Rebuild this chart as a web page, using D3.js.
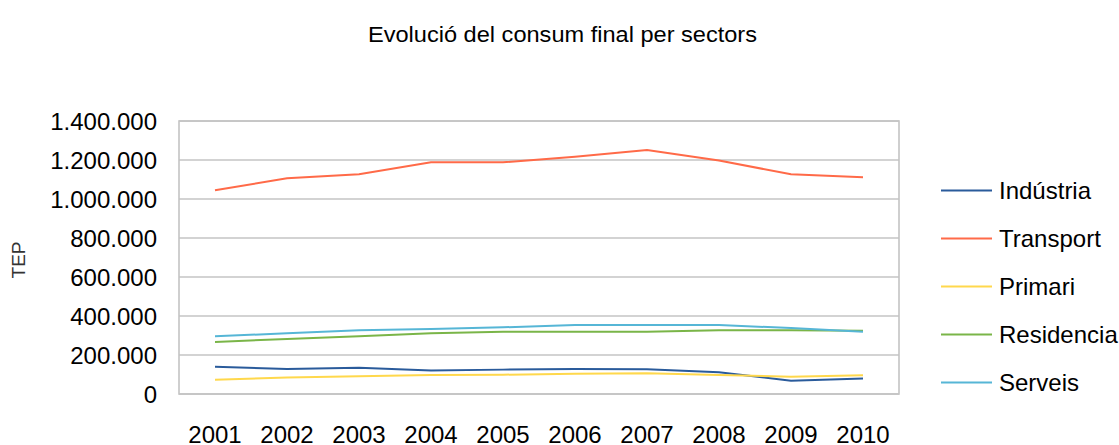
<!DOCTYPE html>
<html>
<head>
<meta charset="utf-8">
<script src="https://cdn.jsdelivr.net/npm/d3@7.9.0/dist/d3.min.js"></script>
<style>
  body { margin: 0; background: #fff; }
  svg { display: block; font-family: "Liberation Sans", Arial, sans-serif; }
</style>
</head>
<body>
<svg width="1119" height="445"></svg>
<script>
// data
const years = ['2001', '2002', '2003', '2004', '2005', '2006', '2007', '2008', '2009', '2010'];
const industria  = [140000, 128000, 135000, 120000, 125000, 128000, 127000, 111000, 68000, 80000];
const transport  = [1045000, 1106000, 1127000, 1188000, 1188000, 1217000, 1251000, 1197000, 1127000, 1111000];
const primari    = [73000, 84000, 91000, 97000, 99000, 104000, 106000, 97000, 89000, 96000];
const residencia = [267000, 282000, 296000, 311000, 319000, 319000, 319000, 327000, 327000, 325000];
const serveis    = [296000, 311000, 327000, 333000, 342000, 354000, 354000, 354000, 338000, 319000];
const yTicks = [0, 200000, 400000, 600000, 800000, 1000000, 1200000, 1400000];

const series = [
  { name: 'Indústria', values: industria, color: '#2a5b9b' },
  { name: 'Transport', values: transport, color: '#ff6a48' },
  { name: 'Primari', values: primari, color: '#ffd84c' },
  { name: 'Residencia', values: residencia, color: '#7ab548' },
  { name: 'Serveis', values: serveis, color: '#56b6d6' }
];

const svg = d3.select('svg');
const plot = { left: 179, right: 899, top: 121, bottom: 394 };

// category axis, points in the middle of each band
const x = d3.scaleBand().domain(years).range([plot.left, plot.right]);
const y = d3.scaleLinear().domain([0, 1400000]).range([plot.bottom, plot.top]);

// format with dots as thousands separator
const fmt = d3.formatLocale({ decimal: ',', thousands: '.', grouping: [3], currency: ['', ''] }).format(',d');

// title
svg.append('text')
  .attr('x', 562.5).attr('y', 41.5)
  .attr('text-anchor', 'middle')
  .attr('font-size', 22)
  .attr('textLength', 389)
  .attr('lengthAdjust', 'spacingAndGlyphs')
  .text('Evolució del consum final per sectors');

// gridlines
svg.append('g')
  .selectAll('line')
  .data(yTicks)
  .join('line')
  .attr('x1', plot.left).attr('x2', plot.right)
  .attr('y1', d => y(d)).attr('y2', d => y(d))
  .attr('stroke', '#c4c4c4')
  .attr('stroke-width', 1.6);

// plot border
svg.append('rect')
  .attr('x', plot.left).attr('y', plot.top)
  .attr('width', plot.right - plot.left).attr('height', plot.bottom - plot.top)
  .attr('fill', 'none')
  .attr('stroke', '#c4c4c4')
  .attr('stroke-width', 1.6);

// y axis labels
const yAxis = svg.append('g')
  .attr('transform', `translate(${plot.left - 22},0)`)
  .call(d3.axisLeft(y).tickValues(yTicks).tickFormat(fmt).tickSize(0).tickPadding(0));
yAxis.select('.domain').remove();
yAxis.selectAll('text')
  .attr('font-size', 24)
  .attr('font-family', '"Liberation Sans", Arial, sans-serif')
  .attr('fill', '#000')
  .attr('dy', '0.35em');

// x axis labels
const xAxis = svg.append('g')
  .attr('transform', `translate(0,${plot.bottom})`)
  .call(d3.axisBottom(x).tickSize(0).tickPadding(0));
xAxis.select('.domain').remove();
xAxis.selectAll('text')
  .attr('font-size', 24)
  .attr('font-family', '"Liberation Sans", Arial, sans-serif')
  .attr('fill', '#000')
  .attr('y', 48.5)
  .attr('dy', 0);

// y axis title
svg.append('text')
  .attr('transform', 'translate(25,260) rotate(-90)')
  .attr('text-anchor', 'middle')
  .attr('font-size', 19)
  .attr('fill', '#333')
  .text('TEP');

// lines
const line = d3.line()
  .x((d, i) => x(years[i]) + x.bandwidth() / 2)
  .y(d => y(d));

svg.append('g')
  .selectAll('path')
  .data(series)
  .join('path')
  .attr('d', d => line(d.values))
  .attr('fill', 'none')
  .attr('stroke', d => d.color)
  .attr('stroke-width', 2);

// legend
const legend = svg.append('g').attr('transform', 'translate(941,190.5)');
const item = legend.selectAll('g')
  .data(series)
  .join('g')
  .attr('transform', (d, i) => `translate(0,${i * 48})`);
item.append('line')
  .attr('x1', 0).attr('x2', 51)
  .attr('stroke', d => d.color)
  .attr('stroke-width', 2);
item.append('text')
  .attr('x', 58).attr('y', 8.5)
  .attr('font-size', 24)
  .text(d => d.name);
</script>
</body>
</html>
